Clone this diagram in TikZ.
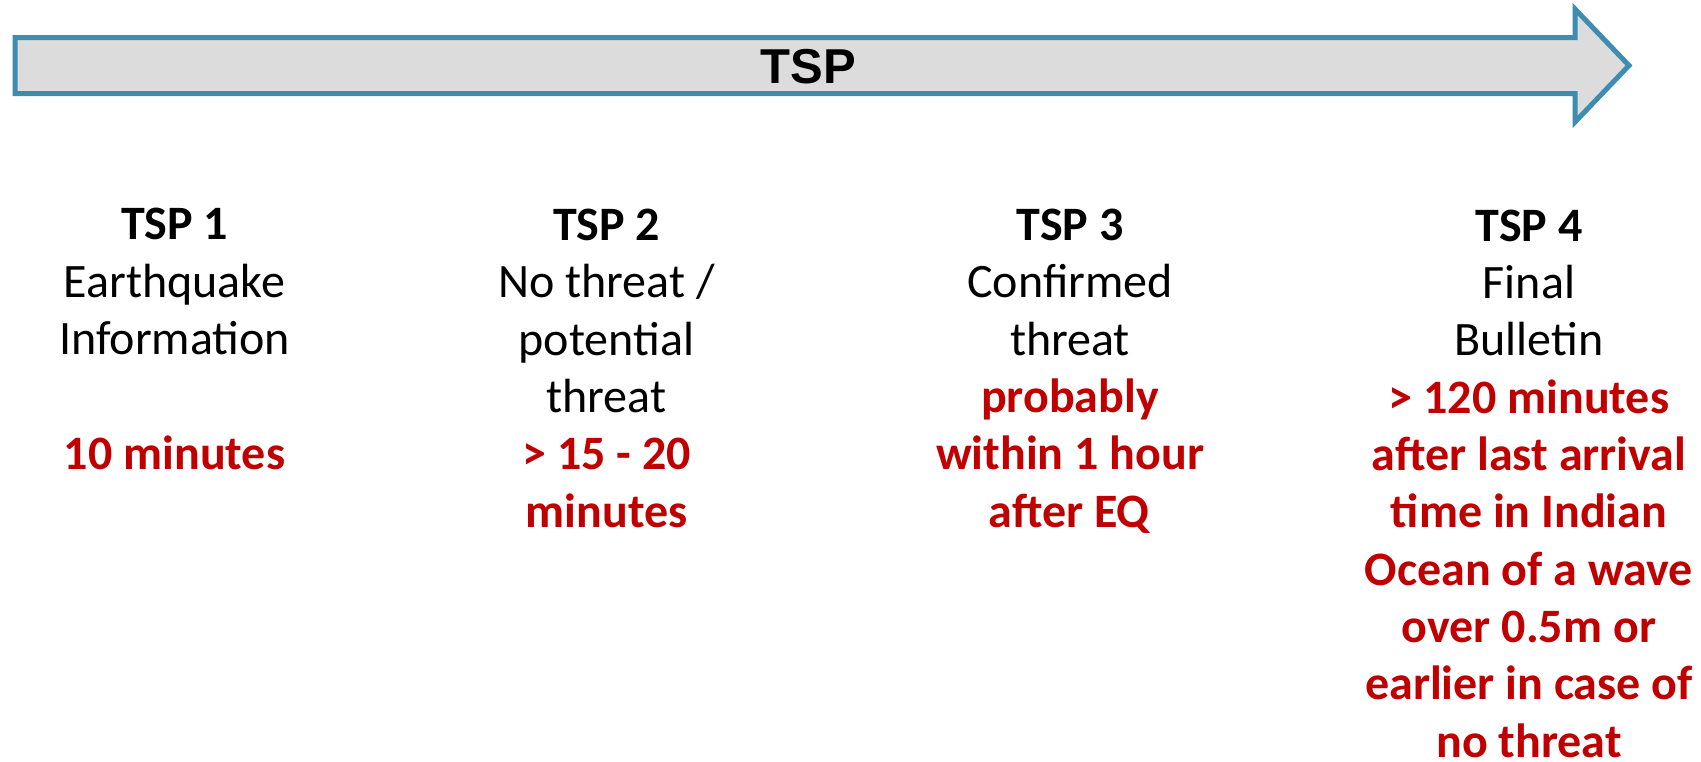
\documentclass[tikz,border=0pt]{standalone}
\usepackage{fontspec}
\setmainfont{Carlito}
\newfontfamily\arrowfont{Liberation Sans}
\definecolor{arrowblue}{RGB}{62,140,176}
\definecolor{arrowgray}{RGB}{220,220,220}
\definecolor{timered}{RGB}{192,0,0}
\tikzset{
  phase/.style={anchor=base, inner sep=0pt, align=center,
    font=\fontsize{48}{57.3}\selectfont}
}
\begin{document}
\begin{tikzpicture}[x=1pt,y=-1pt]
\useasboundingbox (0,0) rectangle (1701,761);
% timeline arrow
\draw[line width=5pt, draw=arrowblue, fill=arrowgray, line join=miter]
  (15,37.5) -- (1575,37.5) -- (1575,9) -- (1629,65.5) -- (1575,122)
  -- (1575,93.5) -- (15,93.5) -- cycle;
\node[anchor=base, inner sep=0pt, font=\arrowfont\bfseries\fontsize{49}{49}\selectfont]
  (tsp) at (808.5,83) {TSP};
% the four phases, each placed by the baseline of its last line
\node[phase] (p1) at (174.5,469) {\textbf{TSP 1}\\Earthquake\\Information\\[57.3pt]%
  \textcolor{timered}{\textbf{10 minutes}}};
\node[phase] (p2) at (606.5,527) {\textbf{TSP 2}\\No threat /\\potential\\threat\\%
  \textcolor{timered}{\textbf{> 15 - 20}}\\\textcolor{timered}{\textbf{minutes}}};
\node[phase] (p3) at (1070,527) {\textbf{TSP 3}\\Confirmed\\threat\\%
  \textcolor{timered}{\textbf{probably}}\\\textcolor{timered}{\textbf{within 1 hour}}\\%
  \textcolor{timered}{\textbf{after EQ}}};
\node[phase] (p4) at (1529,757) {\textbf{TSP 4}\\Final\\Bulletin\\%
  \textcolor{timered}{\textbf{> 120 minutes}}\\\textcolor{timered}{\textbf{after last arrival}}\\%
  \textcolor{timered}{\textbf{time in Indian}}\\\textcolor{timered}{\textbf{Ocean of a wave}}\\%
  \textcolor{timered}{\textbf{over 0.5m or}}\\\textcolor{timered}{\textbf{earlier in case of}}\\%
  \textcolor{timered}{\textbf{no threat}}};
\end{tikzpicture}
\end{document}
